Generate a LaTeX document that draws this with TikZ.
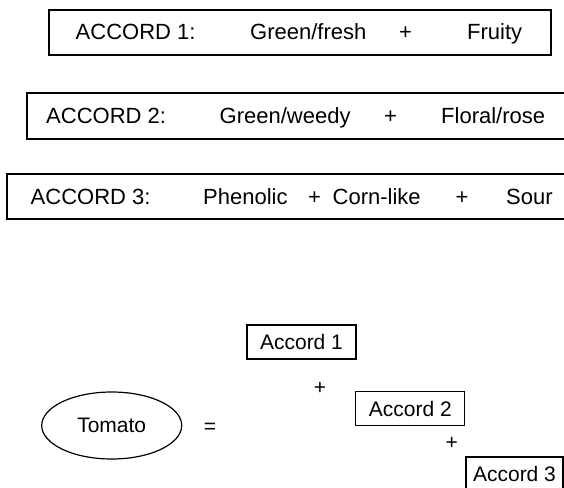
\documentclass[tikz,border=0pt]{standalone}
\usepackage{fontspec}
\setmainfont{Liberation Sans}
\usetikzlibrary{shapes.geometric}
\begin{document}
\begin{tikzpicture}[x=1pt,y=-1pt,
  frame/.style={draw, line width=1.2pt, rectangle, inner sep=0pt},
  big/.style={font=\fontsize{22}{26}\selectfont},
  small/.style={font=\fontsize{21}{25}\selectfont},
  txt/.style={big, inner sep=0pt, anchor=base west},
  op/.style={inner sep=0pt, anchor=base},
  accbox/.style={frame, small, minimum width=109pt, minimum height=34pt}]
\useasboundingbox (0,0) rectangle (564,487);
\clip (0,0) rectangle (564,487);

% accord definitions
\node[frame, minimum width=502pt, minimum height=45pt] (row1) at (300,32.5) {};
\node[txt] (r1a) at (75.5,40) {ACCORD 1:};
\node[txt] (r1b) at (250,40) {Green/fresh};
\node[op, big] (r1p) at (405.5,40) {+};
\node[txt] (r1c) at (467,40) {Fruity};

\node[frame, minimum width=543pt, minimum height=46pt] (row2) at (298.5,116) {};
\node[txt] (r2a) at (46,123.5) {ACCORD 2:};
\node[txt] (r2b) at (219.5,123.5) {Green/weedy};
\node[op, big] (r2p) at (390.5,123.5) {+};
\node[txt] (r2c) at (441,123.5) {Floral/rose};

\node[frame, minimum width=563pt, minimum height=45pt] (row3) at (288.5,196.5) {};
\node[txt] (r3a) at (30.5,204) {ACCORD 3:};
\node[txt] (r3b) at (203,204) {Phenolic};
\node[op, big] (r3p) at (314.5,204) {+};
\node[txt] (r3c) at (332.5,204) {Corn-like};
\node[op, big] (r3q) at (462,204) {+};
\node[txt] (r3d) at (506,204) {Sour};

% tomato as a sum of accords
\node[draw, line width=1.2pt, ellipse, minimum width=140pt, minimum height=67pt,
      small] (tomato) at (111.7,425.5) {Tomato};
\node[op, small] (eq) at (210,433) {=};

\node[accbox] (a1) at (301.5,342) {Accord 1};
\node[op, small] (p1) at (320,394) {+};
\node[accbox] (a2) at (410.3,408.5) {Accord 2};
\node[op, small] (p2) at (451.7,449) {+};
\node[accbox, minimum width=97pt] (a3) at (514.5,474) {Accord 3};
\end{tikzpicture}
\end{document}
